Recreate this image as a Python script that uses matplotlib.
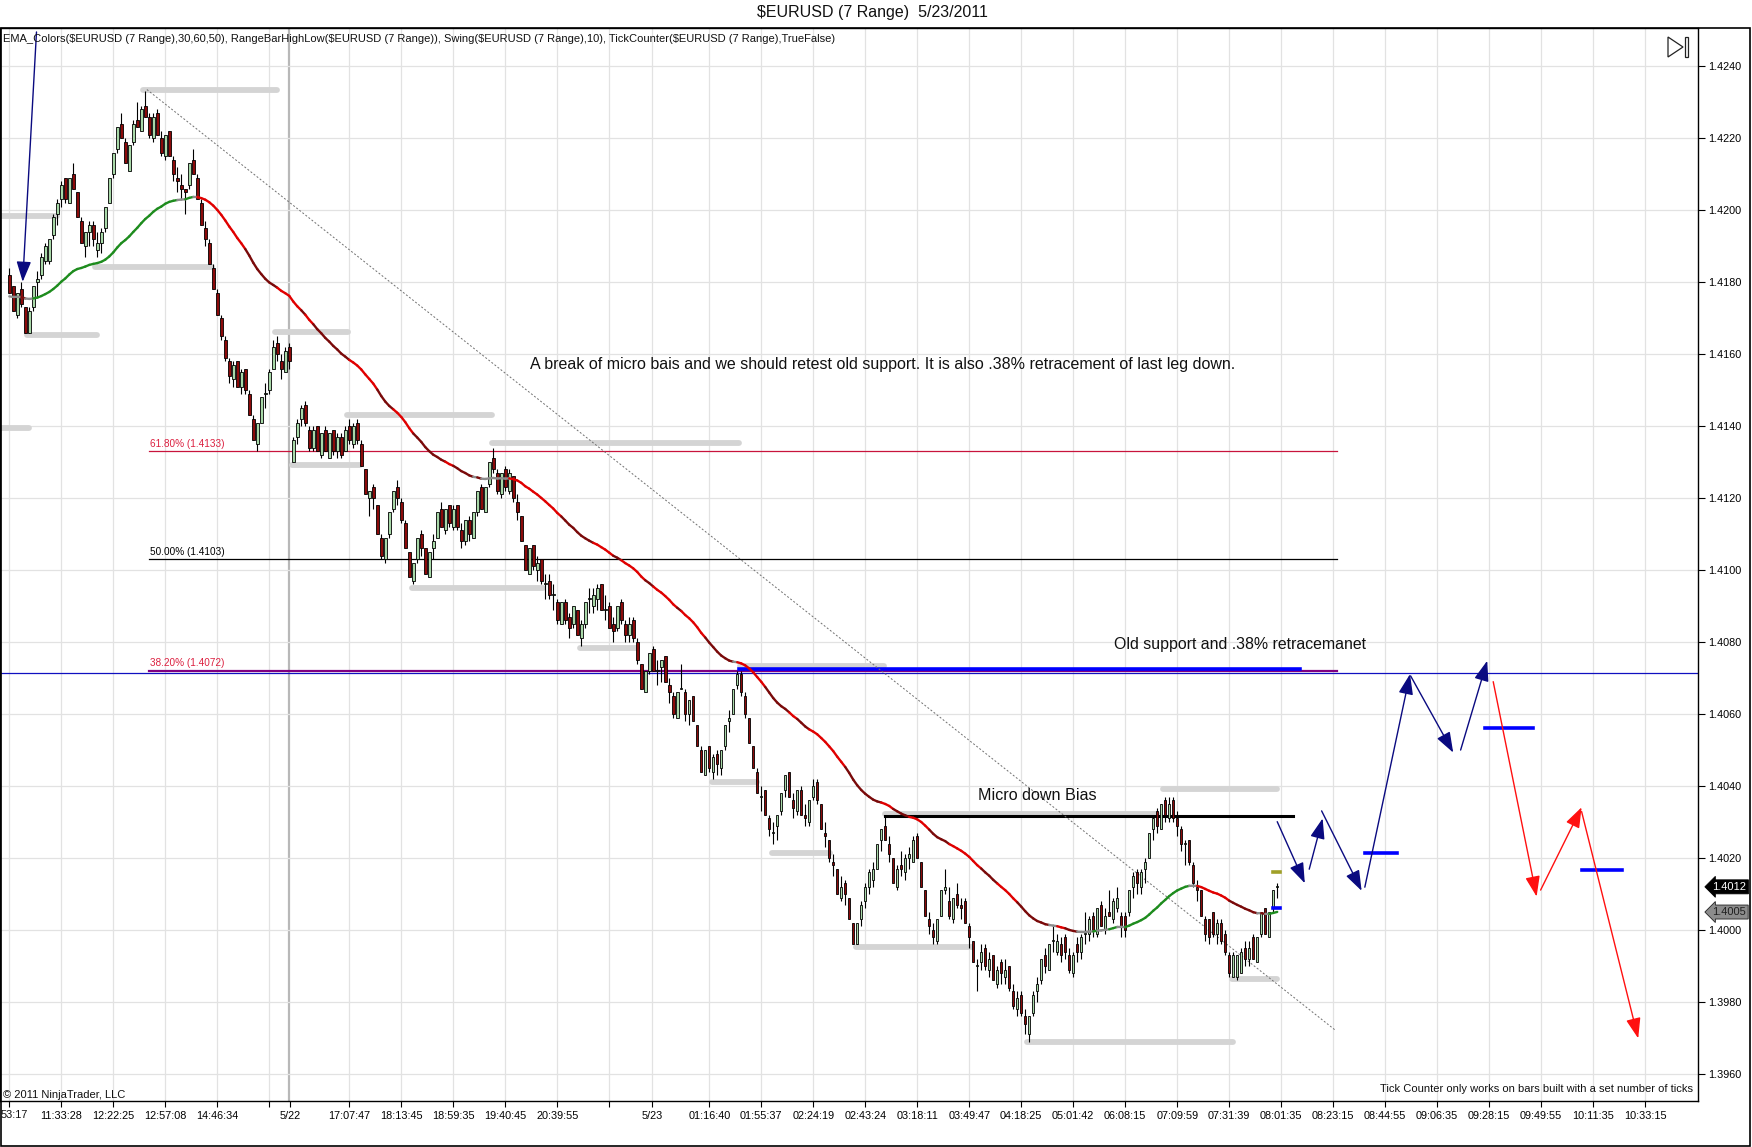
import numpy as np
import matplotlib
matplotlib.use("Agg")
import matplotlib.pyplot as plt
from matplotlib import font_manager
from matplotlib.collections import LineCollection
from matplotlib.patches import Rectangle, Polygon
from matplotlib.transforms import blended_transform_factory

# ---------------- data (prices in pips above 1.4000) ----------------
BASE = 1.4000
PIP = 0.0001

open_pips = [
    182,179,171,178,173,166,173,180,182,186, 186,193,199,203,209,202,210,205,197,190,
    194,196,189,191,195,202,210,217,224,219, 211,219,225,222,229,226,220,227,220,215,
    222,214,209,207,206,207,214,209,202,195, 191,184,177,170,164,158,153,158,151,156,
    149,142,135,141,149,150,156,163,158,155, 162,130,137,142,146,139,134,140,132,139,
    131,139,133,137,133,140,135,141,135,128, 120,123,118,109,103,110,117,123,119,113,
    105,97,103,110,106,98,106,109,117,111, 118,112,118,111,108,114,109,116,123,116,
    124,131,127,121,128,122,126,119,115,107, 99,107,100,103,96,97,93,91,85,91,
    87,85,89,81,85,92,90,92,96,89, 90,85,84,91,85,82,86,80,74,66,
    72,78,72,73,76,68,65,59,67,66, 60,65,57,50,43,51,44,49,45,51,
    58,60,68,71,65,59,51,44,37,39, 31,27,29,33,39,44,36,33,39,32,
    30,37,41,35,27,25,19,17,9,13, 9,2,-4,3,8,12,14,17,25,29,
    24,20,12,18,16,20,19,26,19,11, 3,0,-3,4,11,8,3,10,7,8,
    1,-3,-10,-9,-5,-11,-7,-15,-9,-13, -10,-17,-22,-18,-24,-29,-23,-17,-14,-7,
    -11,-3,-6,-4,-2,-7,-12,-4,-6,-1, -1,4,-1,7,0,5,3,6,4,4,
    5,12,16,12,17,20,28,33,28,36, 31,36,31,28,24,25,18,12,11,3,
    3,5,-1,2,-1,-7,-13,-13,-12,-5, -8,-2,-9,-1,6,-2,6,12]
high_pips = [
    184,179,177,180,173,173,179,183,188,191, 192,199,203,208,209,209,213,205,198,194,
    197,197,194,195,201,209,216,223,227,220, 218,225,230,229,233,227,227,228,222,221,
    222,215,212,210,206,213,217,210,203,197, 192,185,178,171,165,159,158,158,156,156,
    150,143,141,148,152,156,164,165,160,162, 163,137,142,146,147,140,140,140,138,140,
    138,139,138,138,140,142,141,142,136,128, 122,124,118,110,109,116,122,125,120,114,
    105,102,109,111,106,105,110,116,119,117, 118,118,118,113,114,115,116,122,124,123,
    130,134,128,127,129,128,126,121,115,107, 106,107,104,103,99,99,96,92,91,92,
    88,90,89,86,91,95,95,96,96,93, 91,87,90,92,86,87,87,81,74,72,
    77,79,75,75,76,70,66,66,74,67, 64,65,57,51,50,51,49,50,50,57,
    61,67,72,72,66,59,51,45,40,39, 32,30,32,38,43,44,38,39,40,35,
    36,42,42,35,30,25,21,17,15,14, 9,2,2,8,13,17,19,24,28,32,
    26,20,18,22,21,23,26,27,19,11, 5,2,3,11,17,12,9,13,9,9,
    2,-3,-8,-4,-4,-6,-7,-10,-8,-8, -10,-15,-17,-17,-22,-24,-17,-13,-8,-5,
    -4,1,-1,-2,-1,-5,-6,-2,-1,5, 4,5,6,8,6,11,9,12,5,5,
    11,16,17,17,20,27,32,34,35,37, 37,37,33,29,25,25,19,14,11,4,
    3,5,3,3,0,-6,-6,-7,-5,-3, -3,-1,-2,5,6,5,11,13]
low_pips = [
    177,172,170,173,166,166,172,176,181,185, 185,192,196,201,202,202,206,198,191,187,
    190,190,187,188,194,202,209,216,220,213, 211,218,223,222,226,220,219,221,215,214,
    215,208,205,203,199,206,210,203,196,190, 185,178,171,164,158,152,151,151,149,149,
    143,136,133,141,145,149,156,158,153,155, 156,130,135,140,140,133,133,133,131,133,
    131,132,131,131,133,135,134,135,129,121, 115,117,110,103,102,109,116,118,113,106,
    98,96,102,104,99,98,103,109,112,110, 112,111,111,106,107,108,109,115,117,116,
    123,127,121,120,122,121,119,114,108,100, 99,100,97,96,92,92,89,85,85,85,
    81,84,82,79,84,88,88,89,89,86, 84,80,83,85,80,80,80,74,67,66,
    71,72,68,69,69,63,59,59,67,58, 57,58,51,44,43,44,42,43,43,50,
    55,60,67,65,59,52,45,38,33,32, 26,24,25,32,37,37,31,32,32,29,
    29,36,35,28,23,19,15,10,8,7, 3,-4,-4,1,6,10,12,17,22,25,
    19,13,11,15,14,17,19,20,12,4, -1,-4,-4,4,10,3,2,6,3,2,
    -5,-9,-17,-11,-11,-13,-14,-16,-15,-15, -17,-22,-24,-24,-29,-31,-24,-20,-15,-12,
    -11,-6,-7,-9,-8,-12,-13,-9,-8,-4, -3,-2,-2,1,-1,4,2,5,-2,-2,
    4,9,10,10,13,20,25,27,28,30, 30,30,26,22,18,18,12,8,4,-3,
    -4,-2,-4,-4,-7,-13,-13,-14,-12,-10, -10,-8,-9,-2,-1,-2,5,9]
close_pips = [
    177,172,177,174,166,172,179,181,187,190, 192,198,202,207,203,209,206,198,191,194,
    196,192,191,194,201,209,216,223,220,213, 218,224,223,228,226,221,226,221,216,221,
    215,210,208,206,205,213,210,203,196,192, 185,178,171,165,159,154,157,151,155,150,
    143,136,141,148,149,155,162,160,156,161, 158,136,141,145,141,134,139,133,138,133,
    138,133,137,132,139,136,140,136,129,121, 122,120,110,104,109,116,122,120,114,106,
    98,102,109,106,99,105,108,116,112,117, 113,117,112,108,114,110,116,122,117,123,
    130,128,122,127,123,127,120,116,108,100, 106,101,102,97,96,93,93,86,91,86,
    84,90,82,85,91,92,93,95,89,89, 84,83,90,86,82,85,81,75,67,72,
    77,72,72,75,69,66,60,66,67,60, 64,58,51,44,50,45,48,46,50,57,
    59,67,71,66,60,52,45,38,37,32, 28,27,32,38,43,37,34,39,32,31,
    36,40,36,28,26,20,18,10,12,10, 3,-4,2,7,12,16,17,24,28,25,
    21,13,17,17,20,21,25,20,12,4, 1,-2,3,11,12,4,9,7,6,2,
    -2,-9,-10,-6,-10,-8,-14,-11,-12,-11, -16,-21,-19,-23,-26,-24,-18,-15,-8,-10,
    -4,-3,-3,-7,-6,-11,-7,-6,-2,-1, 3,0,6,1,4,4,8,9,1,0,
    11,15,13,16,19,27,31,29,35,32, 35,31,29,24,24,19,13,11,4,-1,
    -2,-1,2,-3,-6,-12,-7,-7,-6,-8, -5,-8,-2,5,-1,5,11,12]

EMA_PERIOD = 50
EMA_SEED = 176.0          # EMA value carried in from before the first visible bar
EMA_MARKER = 5            # 1.4005 label on the price axis
RANGE_HI_MARK = 16        # RangeBarHighLow projections for the open bar
RANGE_LO_MARK = 6

# x-axis time labels (bar index -> label); first label is cut by the left edge
first_label_part = "53:17"
tick_bars = [0, 13, 26, 39, 52, 65, 70.2, 85, 98, 111, 124, 137, 150, 160.8,
             175, 188, 201, 214, 227, 240, 253, 266, 279, 292, 305, 318, 331,
             344, 357, 370, 383, 396, 409]
tick_labels = ["", "11:33:28", "12:22:25", "12:57:08", "14:46:34", "",
               "5/22", "17:07:47", "18:13:45", "18:59:35", "19:40:45", "20:39:55",
               "", "5/23", "01:16:40", "01:55:37", "02:24:19", "02:43:24",
               "03:18:11", "03:49:47", "04:18:25", "05:01:42", "06:08:15",
               "07:09:59", "07:31:39", "08:01:35", "08:23:15", "08:44:55",
               "09:06:35", "09:28:15", "09:49:55", "10:11:35", "10:33:15"]
session_break_bar = 70.0
y_ticks = list(range(-40, 241, 20))

# Swing indicator levels: (start bar, end bar, price pips)
swing_start = [-3, -3, 4.5, 21.5, 33.5, 66.5, 70.6, 84.4, 100.6, 120.6, 142.7,
               175.6, 182.7, 190.6, 211.7, 219.0, 254.4, 288.5, 305.6]
swing_end = [11.9, 5.0, 21.9, 50.6, 66.9, 84.8, 87.7, 120.6, 133.5, 182.5, 156.9,
             186.9, 218.7, 205.2, 240.6, 286.9, 306.0, 316.9, 316.9]
swing_level = [198.4, 139.4, 165.3, 184.3, 233.3, 166.2, 129.3, 143.1, 95.1, 135.3,
               78.4, 41.2, 73.4, 21.3, -4.8, 32.2, -31.0, 39.2, -13.7]

# Fibonacci retracement
fib_start, fib_end = 34.9, 332.0
fib_pct = ["61.80%", "50.00%", "38.20%"]
fib_price = [1.4133, 1.4103, 1.4072]
fib_color = ["#c8143c", "#000000", "#800080"]
fib_text_color = ["#dc2040", "#000000", "#dc2040"]

# drawn objects
trend_x = [34.4, 331.5]
trend_y = [233.5, -27.8]
support_price = 71.5
support_bar_x = [182.5, 322.8]
support_bar_y = 72.4
micro_bias_x = [219.0, 321.0]
micro_bias_y = 31.6

# projection arrows: (x0, y0, x1, y1) in bars / pips
navy_arrows = [(6.8, 249.5, 3.35, 180.1),
               (317.0, 30.1, 323.9, 13.0),
               (325.0, 16.9, 328.35, 31.0),
               (328.1, 33.1, 338.1, 10.9),
               (338.9, 11.9, 350.2, 71.1),
               (350.35, 70.6, 361.0, 49.3),
               (362.85, 50.0, 369.5, 74.8)]
red_arrows = [(371.0, 69.0, 381.85, 9.3),
              (382.85, 11.1, 393.1, 34.1),
              (393.1, 32.9, 407.25, -30.1)]
blue_dashes = [(338.9, 347.0, 21.3), (369.0, 381.0, 56.0), (393.1, 403.1, 16.7)]

# ---------------- fonts ----------------
names = {f.name for f in font_manager.fontManager.ttflist}
NARROW = "Liberation Sans Narrow" if "Liberation Sans Narrow" in names else "Liberation Sans"
plt.rcParams["font.family"] = ["Liberation Sans", "DejaVu Sans"]

o = np.array(open_pips, float)
h = np.array(high_pips, float)
l = np.array(low_pips, float)
c = np.array(close_pips, float)
n = len(c)
xb = np.arange(n)

W, H = 1752, 1147
fig = plt.figure(figsize=(W / 100, H / 100), dpi=100)
ax = fig.add_axes([0, 46 / H, 1698 / W, 1073 / H])
ax.set_xlim(-2.325, 422.2)
ax.set_ylim(-47.5, 250.6)

# grid
for t in tick_bars:
    if abs(t - session_break_bar) < 1:
        continue
    ax.axvline(t, color="#e2e2e2", lw=0.9, zorder=0)
ax.axvline(session_break_bar, color="#b8b8b8", lw=1.6, zorder=0)
for yv in y_ticks:
    ax.axhline(yv, color="#e2e2e2", lw=0.9, zorder=0)

# swing levels
for s0, s1, lv in zip(swing_start, swing_end, swing_level):
    ax.plot([s0, s1], [lv, lv], color="#d4d4d4", lw=4.2, solid_capstyle="round", zorder=1)

# fibonacci
for pct, fp, fc, tc in zip(fib_pct, fib_price, fib_color, fib_text_color):
    yv = (fp - BASE) / PIP
    ax.plot([fib_start, fib_end], [yv, yv], color=fc, lw=1.6 if fc == "#800080" else 0.9, zorder=2)
    ax.text(fib_start + 0.4, yv + 0.7, f"{pct} ({fp:.4f})", color=tc, fontsize=7.2,
            ha="left", va="bottom", zorder=6)

# support lines
ax.axhline(support_price, color="#1010c0", lw=0.9, zorder=2)
ax.plot(support_bar_x, [support_bar_y] * 2, color="#0000ff", lw=2.6, zorder=2)
ax.plot(micro_bias_x, [micro_bias_y] * 2, color="#000000", lw=2.2, zorder=2)

# trend line
ax.plot(trend_x, trend_y, color="#707070", lw=0.7, ls=(0, (2, 2)), zorder=2)

# candles
up = c >= o
ax.vlines(xb, l, h, color="black", lw=0.8, zorder=3)
body_h = np.where(np.abs(c - o) < 0.3, 0.3, c - o)
ax.bar(xb[up], body_h[up], bottom=o[up], width=0.62, color="#a8d8a8",
       edgecolor="black", lw=0.6, zorder=4)
ax.bar(xb[~up], body_h[~up], bottom=o[~up], width=0.62, color="#8b0a0a",
       edgecolor="black", lw=0.6, zorder=4)

# EMA with colours
alpha = 2.0 / (EMA_PERIOD + 1)
ema = np.empty(n)
prev = EMA_SEED
for i in range(n):
    prev = prev + alpha * (c[i] - prev)
    ema[i] = prev
slope = np.diff(ema)
sm = np.convolve(slope, np.ones(5) / 5, mode="same")
acc = np.gradient(sm)
segs, cols = [], []
for i in range(n - 1):
    s = slope[i]
    if abs(s) < 0.2:
        col = "#8c8c8c"
    elif s > 0:
        col = "#1e8c1e"
    else:
        col = "#e00000" if acc[i] < 0 else "#7a0a0a"
    segs.append([(i, ema[i]), (i + 1, ema[i + 1])])
    cols.append(col)
ax.add_collection(LineCollection(segs, colors=cols, lw=1.7, zorder=5, capstyle="round"))

# range bar projections
ax.plot([315.9, 317.7], [RANGE_HI_MARK] * 2, color="#a0a028", lw=2.6, zorder=6)
ax.plot([315.9, 317.7], [RANGE_LO_MARK] * 2, color="#0000ff", lw=2.6, zorder=6)

# arrows
def arrow(a, col):
    x0, y0, x1, y1 = a
    ax.annotate("", xy=(x1, y1), xytext=(x0, y0),
                arrowprops=dict(arrowstyle="-|>,head_length=1.25,head_width=0.45",
                                color=col, lw=1.0, shrinkA=0, shrinkB=0,
                                mutation_scale=10), zorder=7)

for a in navy_arrows:
    arrow(a, "#0a0a80")
for a in red_arrows:
    arrow(a, "#ff1010")
for d0, d1, dy in blue_dashes:
    ax.plot([d0, d1], [dy, dy], color="#0000ff", lw=2.6, zorder=6)

# texts
ax.text(130.3, 157.2, "A break of micro bais and we should retest old support. It is also .38% retracement of last leg down.",
        fontsize=11.5, ha="left", va="center", color="#111111", zorder=8)
ax.text(276.2, 79.2, "Old support and .38% retracemanet", fontsize=11.4,
        ha="left", va="center", color="#111111", zorder=8)
ax.text(242.2, 37.5, "Micro down Bias", fontsize=11.6, ha="left", va="center",
        color="#111111", zorder=8)

# axes styling
for sp in ["left", "bottom", "right", "top"]:
    ax.spines[sp].set_color("black")
    ax.spines[sp].set_linewidth(1.0)
ax.yaxis.tick_right()
ax.set_yticks(y_ticks)
ax.set_yticklabels([f"{BASE + v * PIP:.4f}" for v in y_ticks])
ax.tick_params(axis="y", direction="out", length=5, width=0.8, labelsize=7.8, pad=2)
ax.set_xticks(tick_bars)
ax.set_xticklabels(tick_labels, family=NARROW)
ax.tick_params(axis="x", direction="out", length=4, width=0.8, labelsize=7.8, pad=3)
fig.text(1 / W, 1 - 1115 / H, first_label_part, ha="left", va="center",
         fontsize=7.8, family=NARROW, color="#111111")

# price markers on axis
bt = blended_transform_factory(ax.transAxes, ax.transData)
ax.text(1.0085, c[-1], f"{BASE + c[-1] * PIP:.4f}", transform=bt, fontsize=8,
        color="white", ha="left", va="center", clip_on=False, zorder=9,
        bbox=dict(boxstyle="larrow,pad=0.18", fc="black", ec="black", lw=0.6))
ax.text(1.0085, EMA_MARKER, f"{BASE + EMA_MARKER * PIP:.4f}", transform=bt, fontsize=8,
        color="#202020", ha="left", va="center", clip_on=False, zorder=9,
        bbox=dict(boxstyle="larrow,pad=0.18", fc="#8c8c8c", ec="#202020", lw=0.6))

# "go to end" icon
tri = Polygon([[1668 / 1698, 1 - 9 / 1073], [1668 / 1698, 1 - 29 / 1073], [1683 / 1698, 1 - 19 / 1073]],
              closed=True, fill=False, ec="#222222", lw=0.9, transform=ax.transAxes, zorder=9)
ax.add_patch(tri)
ax.add_patch(Rectangle((1685 / 1698, 1 - 29 / 1073), 3 / 1698, 20 / 1073, fill=False,
                       ec="#222222", lw=0.9, transform=ax.transAxes, zorder=9))

# figure-level texts and frame
fig.text(872 / W, 1 - 13 / H, "\\$EURUSD (7 Range)  5/23/2011", ha="center", va="center",
         fontsize=11.5, color="#111111")
fig.text(3 / W, 1 - 39 / H,
         "EMA_Colors(\\$EURUSD (7 Range),30,60,50), RangeBarHighLow(\\$EURUSD (7 Range)), "
         "Swing(\\$EURUSD (7 Range),10), TickCounter(\\$EURUSD (7 Range),TrueFalse)",
         ha="left", va="center", fontsize=8.0, family=NARROW, color="#111111")
fig.text(3 / W, 1 - 1095 / H, "© 2011 NinjaTrader, LLC", ha="left", va="center",
         fontsize=8.0, family=NARROW, color="#111111")
fig.text(1693 / W, 1 - 1089 / H, "Tick Counter only works on bars built with a set number of ticks",
         ha="right", va="center", fontsize=8.0, family=NARROW, color="#111111")
fig.patches.append(Rectangle((0.5 / W, 1 / H), 1749 / W, 1118 / H, fill=False, ec="black",
                             lw=1.2, transform=fig.transFigure, figure=fig))

fig.savefig("out.png", dpi=100)
